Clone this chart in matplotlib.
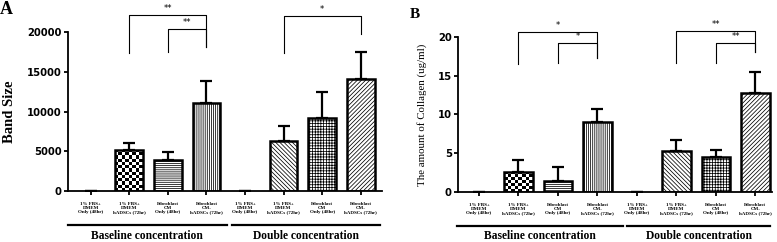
import numpy as np
import matplotlib
matplotlib.use("Agg")
import matplotlib.pyplot as plt
import matplotlib.transforms as mtransforms

categories = ["1% FBS+\nDMEM\nOnly (48hr)", "1% FBS+\nDMEM\nhADSCs (72hr)",
              "Fibroblast\nCM\nOnly (48hr)", "Fibroblast\nCM-\nhADSCs (72hr)"] * 2
groups = ["Baseline concentration", "Double concentration"]

band_mean = [0, 5170, 3910, 11050, 0, 6350, 9160, 14080]
band_err = [0, 840, 960, 2860, 0, 1890, 3360, 3400]
collagen_mean = [0, 2.66, 1.41, 9.0, 0, 5.27, 4.58, 12.72]
collagen_err = [0, 1.45, 1.85, 1.71, 0, 1.46, 0.82, 2.79]

# significance brackets: (left bar, right bar, label, bar height, left leg, right leg)
band_sig = [(1, 3, "**", 22180, 17350, 18180), (2, 3, "**", 20380, 17550, 18180),
            (5, 7, "*", 22090, 17430, 19790)]
collagen_sig = [(1, 3, "*", 20.57, 16.49, 17.22), (2, 3, "*", 19.15, 16.58, 17.22),
                (5, 7, "**", 20.73, 16.58, 18.0), (6, 7, "**", 19.15, 16.58, 18.0)]

hatches = [None, "checker", "--------", "||||||||", None, "\\\\\\\\\\\\\\\\",
           "++++++", "////////"]
serif = ["Liberation Serif", "DejaVu Serif"]

plt.rcParams["hatch.linewidth"] = 0.55
plt.rcParams["font.family"] = ["DejaVu Sans"]


def draw_panel(ax, mean, err, sig, ylim, yticks, ylabel, ylab_kw, x_l, x_r, gl_y, gtxt_y, lines):
    x = np.arange(len(mean))
    lower = np.zeros(len(mean))
    ax.errorbar(x, mean, yerr=[lower, err], fmt="none", ecolor="black",
                elinewidth=1.6, capsize=4, capthick=1.6, zorder=1)
    bars = ax.bar(x, mean, width=0.72, color="white", edgecolor="black",
                  linewidth=1.8, zorder=2)
    for b, h in zip(bars, hatches):
        if h is None or b.get_height() == 0:
            b.set_linewidth(0)
            continue
        if h == "checker":
            bx, by = b.get_x(), b.get_y()
            bw, bh = b.get_width(), b.get_height()
            ny = max(1, int(round(bh / (ylim[1] / 52))))
            img = (np.indices((ny, 8)).sum(axis=0) % 2).astype(float)
            im = ax.imshow(img, cmap="gray", extent=(bx, bx + bw, by, by + bh),
                           aspect="auto", interpolation="nearest", zorder=2.5,
                           origin="lower")
            im.set_clip_path(b)
            b.set_facecolor("none")
            b.set_zorder(3)
        else:
            b.set_hatch(h)

    ax.set_xlim(x_l, x_r)
    ax.set_ylim(*ylim)
    ax.set_yticks(yticks)
    ax.set_yticklabels([str(t) for t in yticks], fontweight="bold", fontsize=7.2)
    ax.set_xticks(x)
    ax.set_xticklabels(categories, fontsize=3.6, fontweight="bold", family=serif,
                       linespacing=1.0)
    ax.tick_params(axis="x", length=3, width=1.3, pad=5)
    ax.tick_params(axis="y", length=3, width=1.3, pad=1.5)
    for s in ["top", "right"]:
        ax.spines[s].set_visible(False)
    for s in ["left", "bottom"]:
        ax.spines[s].set_linewidth(1.3)
    ax.set_ylabel(ylabel, **ylab_kw)

    for i, j, lab, top, lleg, rleg in sig:
        ax.plot([i, i, j, j], [lleg, top, top, rleg], color="black", lw=0.8,
                clip_on=False)
        ax.text((i + j) / 2, top + ylim[1] * 0.012, lab, ha="center", va="bottom",
                fontsize=6, clip_on=False)

    trans = mtransforms.blended_transform_factory(ax.transData, ax.transAxes)
    for (a, b), g in zip(lines, groups):
        ax.plot([a, b], [gl_y, gl_y], color="black", lw=1.6, transform=trans,
                clip_on=False)
        ax.text((a + b) / 2, gtxt_y, g, transform=trans, ha="center", va="center",
                fontsize=8.3, fontweight="bold", family=serif)


fig = plt.figure(figsize=(7.77, 2.42), dpi=100)
axA = fig.add_axes([0.0875, 0.2107, 0.404, 0.656])
axB = fig.add_axes([0.5895, 0.2054, 0.404, 0.643])

draw_panel(axA, band_mean, band_err, band_sig, (0, 20000),
           [0, 5000, 10000, 15000, 20000], "Band Size",
           dict(fontsize=10.5, fontweight="bold", family=serif, labelpad=8),
           -0.59, 7.55, -0.214, -0.282, [(-0.6, 3.53), (3.66, 7.5)])
draw_panel(axB, collagen_mean, collagen_err, collagen_sig, (0, 20),
           [0, 5, 10, 15, 20], "The amount of Collagen (ug/ml)",
           dict(fontsize=7.8, family=serif, labelpad=8),
           -0.53, 7.42, -0.217, -0.283, [(-0.56, 3.65), (3.75, 7.37)])

fig.text(0.0, 0.995, "A", fontsize=13, fontweight="bold", family=serif,
         ha="left", va="top")
fig.text(410 / 777, 1 - 8 / 242, "B", fontsize=11, fontweight="bold", family=serif,
         ha="left", va="top")

fig.savefig("out.png", dpi=100)
